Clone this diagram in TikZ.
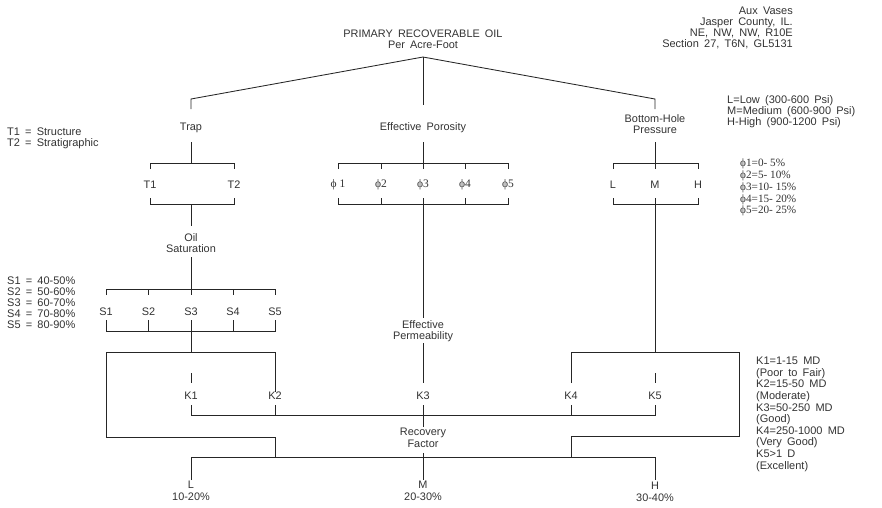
\documentclass[tikz,border=0pt]{standalone}
\usepackage{fontspec}
\setmainfont[WordSpace=1.7]{Liberation Sans}
\newfontfamily\phifont{Liberation Serif}
\begin{document}
\begin{tikzpicture}[x=1pt,y=-1pt,
  wire/.style={draw=black!85,line width=0.85pt},
  lbl/.style={inner sep=0pt,align=center,text=black!80,font=\fontsize{10.9}{11.5}\selectfont},
  notel/.style={inner sep=0pt,align=left,anchor=north west,text=black!80,font=\fontsize{11}{11}\selectfont},
  noter/.style={inner sep=0pt,align=right,anchor=north east,text=black!80,font=\fontsize{11}{10.8}\selectfont},
  grk/.style={inner sep=0pt,text=black!80,font=\phifont\fontsize{11.5}{11.7}\selectfont},
  grknote/.style={inner sep=0pt,align=left,anchor=north west,text=black!80,font=\phifont\fontsize{11.2}{11.7}\selectfont}]
\useasboundingbox (0,0) rectangle (882,507);

% ---- headings -------------------------------------------------------
\node[lbl] (title) at (423,39) {PRIMARY RECOVERABLE OIL\\Per Acre-Foot};
\coordinate (apex) at (423,57);
\node[lbl] (trap) at (191,128) {Trap};
\node[lbl] (poro) at (423,128) {Effective Porosity};
\node[lbl] (bhp) at (655,124) {Bottom-Hole\\Pressure};

\draw[wire] (trap |- 0,109) -- (trap |- 0,99) -- (apex) -- (bhp |- 0,99) -- (bhp |- 0,109);
\draw[wire] (apex) -- (poro |- 0,105);

% ---- trap branch ----------------------------------------------------
\node[lbl] (t1) at (150,185) {T1};
\node[lbl] (t2) at (234,185) {T2};
\draw[wire] (trap |- 0,142) -- (trap |- 0,163);
\draw[wire] (t1 |- 0,169) -- (t1 |- 0,163) -- (t2 |- 0,163) -- (t2 |- 0,169);
\draw[wire] (t1 |- 0,198) -- (t1 |- 0,204) -- (t2 |- 0,204) -- (t2 |- 0,198);
\node[lbl] (sat) at (191,243) {Oil\\Saturation};
\draw[wire] (trap |- 0,204) -- (sat |- 0,226);

\node[lbl] (s1) at (106,312) {S1};
\node[lbl] (s2) at (148.5,312) {S2};
\node[lbl] (s3) at (191,312) {S3};
\node[lbl] (s4) at (233,312) {S4};
\node[lbl] (s5) at (275,312) {S5};
\draw[wire] (sat |- 0,257) -- (s3 |- 0,295);
\draw[wire] (s1 |- 0,295) -- (s1 |- 0,289) -- (s5 |- 0,289) -- (s5 |- 0,295);
\draw[wire] (s2 |- 0,289) -- (s2 |- 0,295);
\draw[wire] (s4 |- 0,289) -- (s4 |- 0,295);
\draw[wire] (s1 |- 0,320) -- (s1 |- 0,331) -- (s5 |- 0,331) -- (s5 |- 0,320);
\draw[wire] (s2 |- 0,320) -- (s2 |- 0,331);
\draw[wire] (s4 |- 0,320) -- (s4 |- 0,331);
\draw[wire] (s3 |- 0,320) -- (s3 |- 0,352);

% ---- porosity branch ------------------------------------------------
\node[grk] (p1) at (338,185) {ϕ 1};
\node[grk] (p2) at (381,185) {ϕ2};
\node[grk] (p3) at (423,185) {ϕ3};
\node[grk] (p4) at (465,185) {ϕ4};
\node[grk] (p5) at (508,185) {ϕ5};
\draw[wire] (poro |- 0,142) -- (p3 |- 0,169);
\draw[wire] (p1 |- 0,169) -- (p1 |- 0,163) -- (p5 |- 0,163) -- (p5 |- 0,169);
\draw[wire] (p2 |- 0,163) -- (p2 |- 0,169);
\draw[wire] (p4 |- 0,163) -- (p4 |- 0,169);
\draw[wire] (p1 |- 0,198) -- (p1 |- 0,204) -- (p5 |- 0,204) -- (p5 |- 0,198);
\draw[wire] (p2 |- 0,198) -- (p2 |- 0,204);
\draw[wire] (p4 |- 0,198) -- (p4 |- 0,204);
\node[lbl] (perm) at (423,331) {Effective\\Permeability};
\draw[wire] (p3 |- 0,198) -- (perm |- 0,318);

% ---- pressure branch ------------------------------------------------
\node[lbl] (pl) at (613,185) {L};
\node[lbl] (pm) at (655,185) {M};
\node[lbl] (ph) at (698,185) {H};
\draw[wire] (bhp |- 0,142) -- (pm |- 0,169);
\draw[wire] (pl |- 0,169) -- (pl |- 0,163) -- (ph |- 0,163) -- (ph |- 0,169);
\draw[wire] (pl |- 0,198) -- (pl |- 0,204) -- (ph |- 0,204) -- (ph |- 0,198);
\draw[wire] (pm |- 0,198) -- (pm |- 0,352);

% ---- permeability classes -------------------------------------------
\node[lbl] (k1) at (191,396) {K1};
\node[lbl] (k2) at (275,396) {K2};
\node[lbl] (k3) at (423,396) {K3};
\node[lbl] (k4) at (571,396) {K4};
\node[lbl] (k5) at (655,396) {K5};
\draw[wire] (k1 |- 0,373) -- (k1 |- 0,383);
\draw[wire] (k5 |- 0,373) -- (k5 |- 0,383);
\draw[wire] (perm |- 0,343) -- (k3 |- 0,383);
\draw[wire] (k1 |- 0,405) -- (k1 |- 0,415) -- (k5 |- 0,415) -- (k5 |- 0,405);
\draw[wire] (k2 |- 0,405) -- (k2 |- 0,415);
\draw[wire] (k4 |- 0,405) -- (k4 |- 0,415);

% left frame from the saturation classes
\draw[wire] (106,437) -- (106,352) -- (k2 |- 0,352) -- (k2 |- 0,392);
% right frame from the pressure classes
\draw[wire] (k4 |- 0,383) -- (k4 |- 0,352) -- (739,352) -- (739,436) -- (k4 |- 0,436) -- (k4 |- 0,457);

% ---- recovery factor ------------------------------------------------
\node[lbl] (rf) at (423,438) {Recovery\\Factor};
\draw[wire] (k3 |- 0,405) -- (rf |- 0,427);
\draw[wire] (106,437) -- (k2 |- 0,437) -- (k2 |- 0,457);
\node[lbl] (rl) at (191,491) {L\\10-20\%};
\node[lbl] (rm) at (423,491) {M\\20-30\%};
\node[lbl] (rh) at (655,492) {H\\30-40\%};
\draw[wire] (rl |- 0,480) -- (rl |- 0,457) -- (rh |- 0,457) -- (rh |- 0,480);
\draw[wire] (rf |- 0,453) -- (rm |- 0,480);

% ---- legends --------------------------------------------------------
\node[noter] (loc) at (793,7) {Aux Vases\\Jasper County, IL.\\NE, NW, NW, R10E\\Section 27, T6N, GL5131};
\node[notel] (bhpkey) at (727,95) {L=Low (300-600 Psi)\\M=Medium (600-900 Psi)\\H-High (900-1200 Psi)};
\node[grknote] (porokey) at (740,159) {ϕ1=0- 5\%\\ϕ2=5- 10\%\\ϕ3=10- 15\%\\ϕ4=15- 20\%\\ϕ5=20- 25\%};
\node[notel,font=\fontsize{11}{11.6}\selectfont] (kkey) at (756,357) {K1=1-15 MD\\(Poor to Fair)\\K2=15-50 MD\\(Moderate)\\K3=50-250 MD\\(Good)\\K4=250-1000 MD\\(Very Good)\\K5>1 D\\(Excellent)};
\node[notel] (tkey) at (7,128) {T1 = Structure\\T2 = Stratigraphic};
\node[notel,font=\fontsize{11}{10.8}\selectfont] (skey) at (7,277) {S1 = 40-50\%\\S2 = 50-60\%\\S3 = 60-70\%\\S4 = 70-80\%\\S5 = 80-90\%};
\end{tikzpicture}
\end{document}
